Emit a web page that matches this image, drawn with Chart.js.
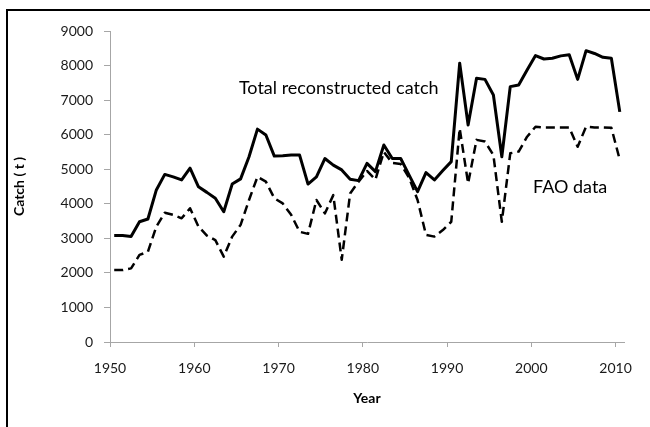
<!DOCTYPE html>
<html lang="en">
<head>
  <meta charset="UTF-8" />
  <title>Catch reconstruction</title>
  <script src="https://cdn.jsdelivr.net/npm/chart.js"></script>
  <style>
    body {
      margin: 0;
      background: #fff;
      width: 650px;
      height: 427px;
      overflow: hidden;
      position: relative;
    }
    #frame {
      position: absolute;
      left: 6px;
      top: 9px;
      width: 700px;
      height: 500px;
      border-top: 2px solid #000;
      border-left: 2px solid #000;
    }
    #catchChart {
      position: absolute;
      left: 0;
      top: 0;
    }
  </style>
</head>
<body>
  <div id="frame"></div>
  <canvas id="catchChart" width="650" height="427"></canvas>

  <script>
    const years = [];
    for (let y = 1950; y <= 2010; y++) years.push(y);

    const totalCatch = [
      3080, 3080, 3050, 3480, 3560, 4400, 4850, 4780, 4690, 5030,
      4490, 4330, 4160, 3770, 4570, 4720, 5360, 6160, 5990, 5380,
      5390, 5410, 5410, 4570, 4780, 5310, 5120, 4980, 4710, 4670,
      5170, 4930, 5700, 5310, 5310, 4830, 4350, 4900, 4690, 4960,
      5220, 8070, 6280, 7630, 7600, 7150, 5360, 7390, 7440, 7870,
      8290, 8190, 8210, 8280, 8310, 7600, 8430, 8350, 8240, 8210,
      6660
    ];

    const faoData = [
      2080, 2080, 2130, 2520, 2610, 3340, 3740, 3680, 3580, 3870,
      3340, 3080, 2950, 2470, 3050, 3390, 4110, 4780, 4640, 4160,
      4010, 3680, 3190, 3130, 4110, 3720, 4250, 2380, 4300, 4640,
      4950, 4700, 5500, 5180, 5150, 4750, 4110, 3100, 3050, 3240,
      3480, 6180, 4590, 5850, 5800, 5410, 3480, 5460, 5510, 5940,
      6230, 6210, 6210, 6210, 6210, 5650, 6230, 6210, 6210, 6200,
      5270
    ];

    const yearTicks = [1950, 1960, 1970, 1980, 1990, 2000, 2010];

    // text labels placed in data space: [text, year, catch]
    const seriesNotes = [
      ['Total reconstructed catch', 1964.8, 7350],
      ['FAO data', 1999.7, 4480]
    ];

    const font = "Lato, 'Open Sans', sans-serif";
    const axisGray = '#a6a6a6';

    const notesPlugin = {
      id: 'notes',
      afterDatasetsDraw(chart) {
        const { ctx, scales } = chart;
        ctx.save();
        ctx.font = '18px ' + font;
        ctx.fillStyle = '#000';
        ctx.textBaseline = 'middle';
        ctx.textAlign = 'left';
        seriesNotes.forEach(([txt, yr, val]) => {
          ctx.fillText(txt, scales.x.getPixelForValue(yr), scales.y.getPixelForValue(val));
        });
        ctx.restore();
      }
    };

    const toPoints = arr => arr.map((v, i) => ({ x: years[i], y: v }));

    new Chart(document.getElementById('catchChart'), {
      type: 'line',
      data: {
        datasets: [
          {
            label: 'Total reconstructed catch',
            data: toPoints(totalCatch),
            borderColor: '#000',
            borderWidth: 3,
            borderJoinStyle: 'round',
            pointRadius: 0,
            tension: 0
          },
          {
            label: 'FAO data',
            data: toPoints(faoData),
            borderColor: '#000',
            borderWidth: 2.5,
            borderDash: [9, 5],
            borderJoinStyle: 'round',
            pointRadius: 0,
            tension: 0
          }
        ]
      },
      options: {
        responsive: false,
        animation: false,
        layout: { padding: { top: 31, right: 26, left: 0, bottom: 0 } },
        plugins: {
          legend: { display: false },
          tooltip: { enabled: false }
        },
        scales: {
          x: {
            type: 'linear',
            min: 1949.5,
            max: 2010.5,
            afterBuildTicks: s => { s.ticks = yearTicks.map(v => ({ value: v - 0.5 })); },
            afterFit: s => { s.height = 85; },
            grid: { drawOnChartArea: false, color: axisGray, tickLength: 5 },
            border: { color: axisGray },
            ticks: {
              padding: 13,
              color: '#1a1a1a',
              font: { family: font, size: 14 },
              maxRotation: 0,
              callback: v => String(Math.round(v + 0.5))
            },
            title: {
              display: true,
              text: 'Year',
              color: '#000',
              font: { family: font, size: 14, weight: 'bold' },
              padding: { top: 6, bottom: 20 }
            }
          },
          y: {
            min: 0,
            max: 9000,
            afterFit: s => { s.width = 110; },
            grid: { drawOnChartArea: false, color: axisGray, tickLength: 6 },
            border: { color: axisGray },
            ticks: {
              stepSize: 1000,
              padding: 11,
              color: '#1a1a1a',
              font: { family: font, size: 14 },
              callback: v => String(v)
            },
            title: {
              display: true,
              text: 'Catch ( t )',
              color: '#000',
              font: { family: font, size: 14, weight: 'bold' },
              padding: { top: 11, bottom: 11 }
            }
          }
        }
      },
      plugins: [notesPlugin]
    });
  </script>
</body>
</html>
